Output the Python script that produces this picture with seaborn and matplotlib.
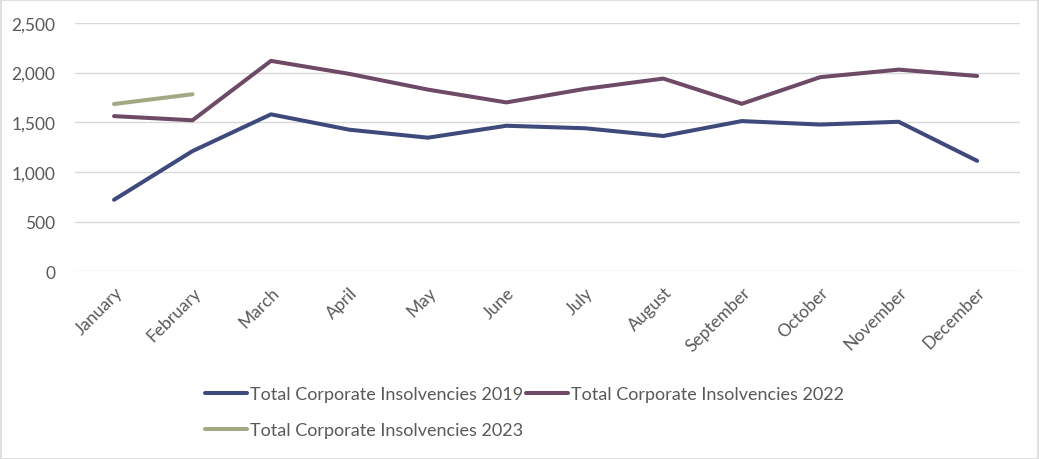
import matplotlib
matplotlib.use("Agg")
import matplotlib.pyplot as plt
import pandas as pd
import seaborn as sns
from matplotlib.patches import Rectangle

months = ["January", "February", "March", "April", "May", "June", "July",
          "August", "September", "October", "November", "December"]
insolv_2019 = [720, 1210, 1580, 1425, 1345, 1465, 1440, 1362, 1512, 1477, 1505, 1112]
insolv_2022 = [1562, 1520, 2118, 1987, 1829, 1700, 1836, 1940, 1686, 1954, 2030, 1966]
insolv_2023 = [1684, 1782]

labels = ["Total Corporate Insolvencies 2019",
          "Total Corporate Insolvencies 2022",
          "Total Corporate Insolvencies 2023"]
colors = ["#3D4A7B", "#6E4A66", "#A0A984"]

frames = []
for lab, vals in zip(labels, [insolv_2019, insolv_2022, insolv_2023]):
    frames.append(pd.DataFrame({"month": months[:len(vals)], "value": vals, "series": lab}))
df = pd.concat(frames, ignore_index=True)
df["x"] = df["month"].map({m: i for i, m in enumerate(months)})

sns.set_style("white")
plt.rcParams["font.family"] = ["Lato", "DejaVu Sans"]

fig = plt.figure(figsize=(10.39, 4.6), dpi=100)
ax = fig.add_axes([0.072, 0.408, 0.91, 0.54])

sns.lineplot(data=df, x="x", y="value", hue="series", hue_order=labels,
             palette=colors, linewidth=2.9, ax=ax, legend=False)

ax.set_xlim(-0.5, 11.55)
ax.set_ylim(0, 2500)
ax.set_yticks(range(0, 2501, 500))
ax.set_yticklabels([f"{v:,}" for v in range(0, 2501, 500)])
ax.set_xticks(range(len(months)))
ax.set_xticklabels(months, rotation=45, ha="right", rotation_mode="anchor")
ax.tick_params(axis="both", labelsize=12.5, colors="#595959", length=0)
ax.tick_params(axis="y", pad=14)
ax.tick_params(axis="x", pad=9)
ax.yaxis.grid(True, color="#d9d9d9", linewidth=1)
ax.set_axisbelow(True)
for s in ax.spines.values():
    s.set_visible(False)
ax.set_xlabel("")
ax.set_ylabel("")

# column-first fill: put 2023 under 2019
order = [0, 2, 1]
handles = [plt.Line2D([], [], color=colors[i], linewidth=2.9) for i in order]
fig.legend(handles, [labels[i] for i in order], loc="upper left",
           bbox_to_anchor=(0.182, 0.194), ncol=2, frameon=False, fontsize=13,
           handlelength=2.3, handletextpad=0.15, columnspacing=0.2,
           labelspacing=1.1, labelcolor="#595959")

fig.patches.append(Rectangle((0.001, 0.001), 0.998, 0.997, transform=fig.transFigure,
                             fill=False, edgecolor="#d9d9d9", linewidth=1.2))

fig.savefig("out.png", dpi=100)
